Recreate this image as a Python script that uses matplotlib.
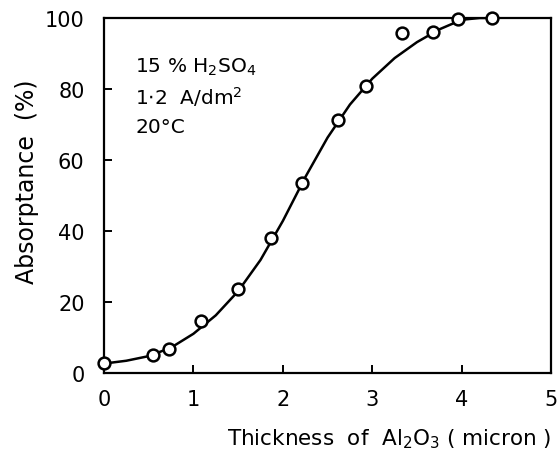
"""Absorptance vs. anodic Al2O3 film thickness (15 % H2SO4, 1.2 A/dm2, 20 C)."""

import matplotlib

matplotlib.use("Agg")
import matplotlib.pyplot as plt

# measured points
thickness = [0.0, 0.55, 0.73, 1.08, 1.50, 1.87, 2.21, 2.62, 2.93, 3.33, 3.68, 3.96, 4.34]
absorptance = [2.7, 5.1, 6.7, 14.6, 23.6, 37.9, 53.6, 71.3, 80.9, 95.8, 96.1, 99.7, 100.0]

# hand-drawn smooth curve
curve_x = [0.0, 0.25, 0.5, 0.75, 1.0, 1.25, 1.5, 1.75, 2.0, 2.25, 2.5,
           2.75, 3.0, 3.25, 3.5, 3.75, 4.0, 4.2, 4.35]
curve_y = [2.6, 3.4, 4.7, 7.1, 11.0, 16.2, 23.0, 31.8, 42.8, 55.1, 66.3,
           75.6, 82.9, 88.7, 93.2, 96.8, 99.5, 100.0, 100.0]

xticks = [0, 1, 2, 3, 4, 5]
yticks = [0, 20, 40, 60, 80, 100]
ytick_labels = ["0", "20", "40", "60", "80", "100"]
conditions = ["15 % H$_2$SO$_4$", "1$\\cdot$2  A/dm$^2$", "20°C"]

plt.rcParams["mathtext.default"] = "regular"
plt.rcParams["font.family"] = ["DejaVu Sans"]

fig = plt.figure(figsize=(5.59, 4.52), dpi=100)
ax = fig.add_axes([0.186, 0.173, 0.800, 0.785])

ax.plot(curve_x, curve_y, color="black", linewidth=1.8, zorder=2)
ax.plot(thickness, absorptance, linestyle="none", marker="o", markersize=8.5,
        markerfacecolor="white", markeredgecolor="black", markeredgewidth=1.8,
        zorder=3, clip_on=False)

ax.set_xlim(0, 5)
ax.set_ylim(0, 100)
ax.set_xticks(xticks)
ax.set_yticks(yticks)
ax.set_yticklabels(ytick_labels)
ax.tick_params(direction="in", length=6, width=1.4, labelsize=15)
ax.tick_params(axis="x", pad=12)
ax.tick_params(axis="y", pad=14)
for spine in ax.spines.values():
    spine.set_linewidth(1.6)

ax.set_xlabel("Thickness  of  Al$_2$O$_3$ ( micron )", fontsize=15.5, labelpad=12,
              loc="right")
ax.set_ylabel("Absorptance  (%)", fontsize=17)
ax.yaxis.set_label_coords(-0.145, 0.54)

for i, line in enumerate(conditions):
    ax.text(0.07, 0.865 - i * 0.085, line, transform=ax.transAxes,
            fontsize=14.5, va="center", ha="left")

fig.savefig("out.png", dpi=100)
